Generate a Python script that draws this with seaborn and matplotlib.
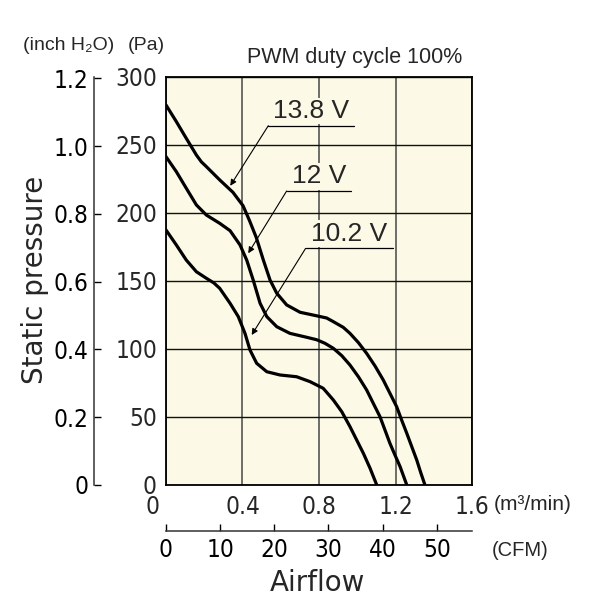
import numpy as np
import pandas as pd
import matplotlib
matplotlib.use('Agg')
import matplotlib.pyplot as plt
import seaborn as sns
from matplotlib.transforms import ScaledTranslation

# curves (airflow m3/min, static pressure Pa)
flow_138 = [0, 0.054, 0.106, 0.159, 0.185, 0.211, 0.281, 0.350, 0.403, 0.437, 0.472, 0.509,
            0.544, 0.579, 0.631, 0.701, 0.788, 0.840, 0.875, 0.927, 0.962, 1.006,
            1.049, 1.093, 1.136, 1.171, 1.206, 1.232, 1.259, 1.285, 1.311, 1.332, 1.354]
pres_138 = [279.4, 267.2, 254.9, 242.6, 237.6, 234.1, 224.3, 215.2, 205.3, 194.3, 182.0, 165.4,
            150.7, 141.0, 132.4, 127.0, 124.4, 122.8, 120.1, 115.9, 111.5, 104.7,
            96.8, 87.5, 77.2, 67.4, 57.6, 47.8, 38.0, 28.2, 18.4, 9.1, 0]

flow_12 = [0, 0.054, 0.106, 0.159, 0.211, 0.281, 0.335, 0.387, 0.422, 0.456, 0.492,
           0.527, 0.579, 0.648, 0.736, 0.788, 0.831, 0.875, 0.919, 0.962, 1.006,
           1.049, 1.084, 1.119, 1.145, 1.171, 1.197, 1.224, 1.259]
pres_12 = [241.4, 230.4, 218.2, 205.9, 198.5, 192.4, 187.0, 176.5, 165.4, 150.7, 133.6,
           123.8, 116.4, 111.5, 108.6, 106.8, 104.2, 100.5, 95.1, 88.2, 79.6,
           69.9, 60.0, 50.2, 40.4, 30.6, 22.1, 13.5, 0]

flow_102 = [0, 0.054, 0.106, 0.159, 0.211, 0.250, 0.281, 0.335, 0.378, 0.413, 0.439, 0.474,
            0.527, 0.596, 0.683, 0.753, 0.822, 0.875, 0.919, 0.962, 0.997, 1.032,
            1.067, 1.102]
pres_102 = [187.5, 176.5, 165.4, 156.8, 152.0, 148.6, 144.6, 133.6, 123.8, 111.5, 99.3, 89.5,
            83.3, 80.9, 79.6, 76.0, 71.1, 62.5, 53.9, 42.9, 33.1, 23.3,
            12.3, 0]

voltages = ['13.8 V', '12 V', '10.2 V']
m3_ticks = [0, 0.4, 0.8, 1.2, 1.6]
pa_ticks = [0, 50, 100, 150, 200, 250, 300]
inch_ticks = [0, 0.2, 0.4, 0.6, 0.8, 1.0, 1.2]
inch_labels = ['0', '0.2', '0.4', '0.6', '0.8', '1.0', '1.2']
cfm_ticks = [0, 10, 20, 30, 40, 50]

PA_PER_INCH = 249.09
CFM_PER_M3 = 35.3147

df = pd.concat([
    pd.DataFrame({'flow': flow_138, 'pressure': pres_138, 'voltage': voltages[0]}),
    pd.DataFrame({'flow': flow_12, 'pressure': pres_12, 'voltage': voltages[1]}),
    pd.DataFrame({'flow': flow_102, 'pressure': pres_102, 'voltage': voltages[2]}),
])

sns.set_style('white')
plt.rcParams['font.family'] = ['Liberation Sans', 'DejaVu Sans']
narrow = ['DejaVu Sans']

fig = plt.figure(figsize=(5.91, 6.12), dpi=100)
ax = fig.add_axes([166 / 591, 1 - 485 / 612, 306 / 591, 408 / 612])
ax.set_facecolor('#fcf9e6')

sns.lineplot(data=df, x='flow', y='pressure', hue='voltage', palette=['black'] * 3,
             sort=False, estimator=None, linewidth=2.3, legend=False, ax=ax, zorder=3)

ax.set_xlim(0, 1.6)
ax.set_ylim(0, 300)
ax.set_xticks(m3_ticks, ['0', '0.4', '0.8', '1.2', '1.6'])
ax.set_yticks(pa_ticks, [str(t) for t in pa_ticks])
ax.tick_params(length=0, labelsize=17.5)
ax.tick_params(axis='y', pad=6.5)
ax.tick_params(axis='x', pad=7)


def condense(labels):
    for lab in labels:
        lab.set_family(narrow)
        lab.set_stretch('condensed')


condense(ax.get_xticklabels() + ax.get_yticklabels())
ax.get_xticklabels()[0].set_transform(
    ax.get_xticklabels()[0].get_transform() + ScaledTranslation(-0.13, 0, fig.dpi_scale_trans))
ax.grid(True, axis='y', color='#111111', linewidth=1.0)
ax.grid(True, axis='x', color='#555555', linewidth=1.2)
ax.set_axisbelow(True)
for s in ax.spines.values():
    s.set_color('black')
    s.set_linewidth(1.3)
ax.set_xlabel('')
ax.set_ylabel('')

# inch H2O axis
ay = ax.secondary_yaxis(-72 / 306, functions=(lambda p: p / PA_PER_INCH, lambda i: i * PA_PER_INCH))
ay.set_yticks(inch_ticks, inch_labels)
ay.tick_params(direction='in', length=5, width=1, pad=4, labelsize=17.5, colors='black')
ay.spines['left'].set_linewidth(1.1)
ay.spines['left'].set_color('#333333')
condense(ay.get_yticklabels())

# CFM axis
axx = ax.secondary_xaxis(-46 / 408, functions=(lambda m: m * CFM_PER_M3, lambda c: c / CFM_PER_M3))
axx.set_xticks(cfm_ticks, [str(t) for t in cfm_ticks])
axx.tick_params(direction='in', length=5, width=1, pad=5, labelsize=17.5, colors='black')
axx.spines['bottom'].set_linewidth(1.1)
axx.spines['bottom'].set_color('#333333')
condense(axx.get_xticklabels())

# voltage labels with leader arrows: (label, underline x0, x1, y, arrow tip x, y)
callouts = [
    ('13.8 V', 0.535, 0.983, 264.2, 0.336, 220.0),
    ('12 V', 0.631, 0.967, 216.2, 0.430, 170.4),
    ('10.2 V', 0.730, 1.185, 174.0, 0.448, 110.3),
]
for lab, x0, x1, y, tx, ty in callouts:
    ax.plot([x0, x1], [y, y], color='black', lw=0.9, zorder=4)
    ax.annotate('', xy=(tx, ty), xytext=(x0, y),
                arrowprops=dict(arrowstyle='-|>', color='black', lw=0.8,
                                mutation_scale=9, shrinkA=0, shrinkB=0), zorder=4)
    ax.annotate(lab, xy=((x0 + x1) / 2, y), xytext=(0, 2), textcoords='offset points',
                ha='center', va='bottom', fontsize=19, zorder=5,
                bbox=dict(boxstyle='square,pad=0.05', fc='#fcf9e6', ec='none'))

fig.text(355 / 591, 1 - 58 / 612, 'PWM duty cycle 100%', ha='center', va='center', fontsize=15.5)
fig.text(23 / 591, 1 - 46 / 612, '(inch H₂O)', ha='left', va='center', fontsize=14)
fig.text(128 / 591, 1 - 46 / 612, '(Pa)', ha='left', va='center', fontsize=14)
fig.text(533 / 591, 1 - 505 / 612, '(m³/min)', ha='center', va='center', fontsize=15)
fig.text(520 / 591, 1 - 550 / 612, '(CFM)', ha='center', va='center', fontsize=14.5)
fig.text(317 / 591, 1 - 583 / 612, 'Airflow', ha='center', va='center', fontsize=20,
         family='DejaVu Sans')
fig.text(35 / 591, 1 - 280 / 612, 'Static pressure', ha='center', va='center',
         rotation=90, fontsize=20, family='DejaVu Sans')

fig.savefig('out.png', dpi=100, facecolor='white')
